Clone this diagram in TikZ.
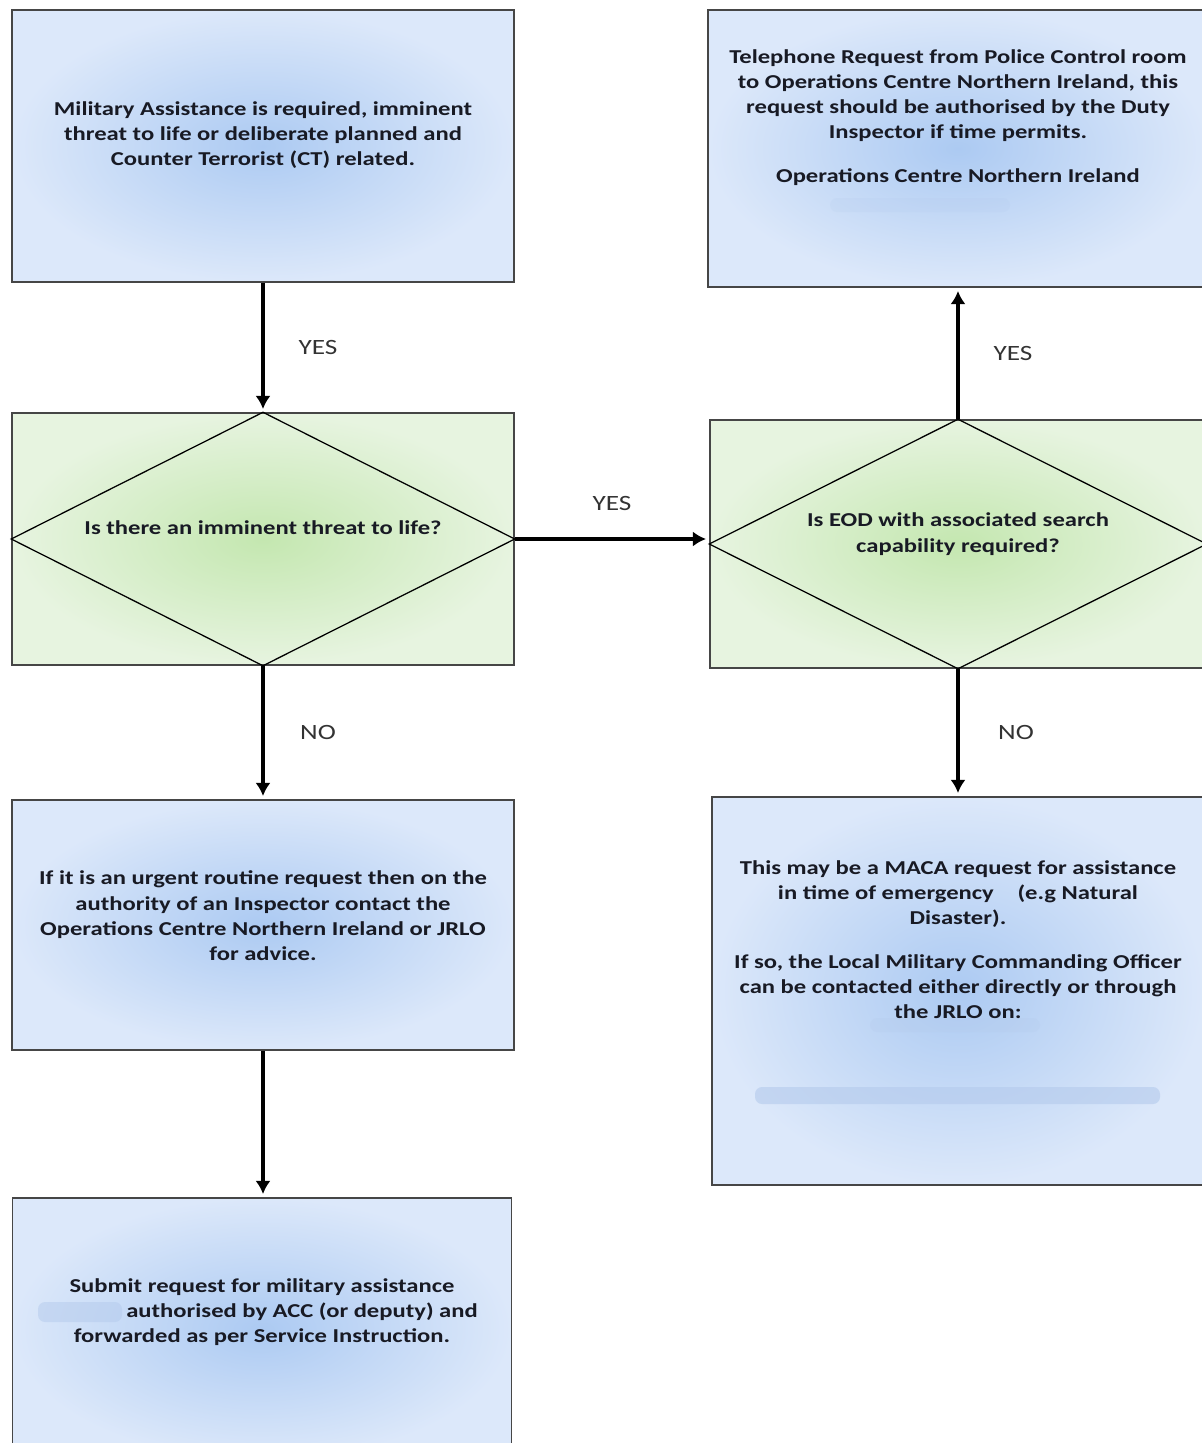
\documentclass[tikz,border=0pt]{standalone}
\usepackage{fontspec}
\setmainfont{Carlito}[FakeStretch=1.25]
\usepackage{tikz}
\usetikzlibrary{arrows.meta}

\definecolor{bluein}{RGB}{172,202,242}
\definecolor{blueout}{RGB}{220,232,250}
\definecolor{greenin}{RGB}{196,231,176}
\definecolor{greenout}{RGB}{231,244,224}
\definecolor{ink}{RGB}{24,26,36}
\definecolor{smudge}{RGB}{180,202,236}

\begin{document}
\begin{tikzpicture}[x=0.025cm, y=-0.025cm,
    box/.style={draw=gray!55!black, line width=1pt, inner sep=0pt,
      inner color=bluein, outer color=blueout},
    gbox/.style={box, inner color=greenin, outer color=greenout},
    diam/.style={draw=black, line width=0.9pt},
    txt/.style={font=\fontsize{14}{18}\selectfont\bfseries, text=ink, align=center},
    lbl/.style={font=\fontsize{15.5}{18}\selectfont, text=black!80},
    arr/.style={line width=2.8pt, -{Latex[length=0.33cm, width=0.38cm]}, shorten >=0.08cm},
    smear/.style={fill=smudge, rounded corners=5pt}]
    \useasboundingbox (0, 0) rectangle (1202, 1443);
    \clip (0, 0) rectangle (1202, 1443);

    \node [box, minimum width=12.55cm, minimum height=6.8cm] (req) at (263, 146) {};
    \node [box, minimum width=12.5cm, minimum height=6.925cm] (tel) at (958, 148.5) {};
    \fill [smear, fill opacity=0.2] (830, 198) rectangle (1010, 212);

    \node [gbox, minimum width=12.55cm, minimum height=6.3cm] (life) at (263, 539) {};
    \draw [diam] (life.north) -- (life.east) -- (life.south) -- (life.west) -- cycle;
    \node [gbox, minimum width=12.4cm, minimum height=6.2cm] (eod) at (958, 544) {};
    \draw [diam] (eod.north) -- (eod.east) -- (eod.south) -- (eod.west) -- cycle;

    \node [box, minimum width=12.55cm, minimum height=6.25cm] (urgent) at (263, 925) {};
    \node [box, minimum width=12.3cm, minimum height=9.7cm] (maca) at (958, 991) {};
    \fill [smear, fill opacity=0.25] (870, 1018) rectangle (1040, 1032);
    \fill [smear, fill opacity=0.6] (755, 1087) rectangle (1160, 1104);
    \node [box, minimum width=12.475cm, minimum height=6.55cm] (submit) at (262, 1329) {};
    \fill [smear, fill opacity=0.5] (38, 1302) rectangle (122, 1322);

    \node [txt] (req-t) at ([yshift=0.275cm]req.center)
      {Military Assistance is required, imminent\\
       threat to life or deliberate planned and\\
       Counter Terrorist (CT) related.};
    \node [txt] (tel-t) at ([yshift=0.78cm]tel.center)
      {Telephone Request from Police Control room\\
       to Operations Centre Northern Ireland, this\\
       request should be authorised by the Duty\\
       Inspector if time permits.\\[0.45cm]
       Operations Centre Northern Ireland};
    \node [txt] (life-t) at ([yshift=0.275cm]life.center)
      {Is there an imminent threat to life?};
    \node [txt] (eod-t) at ([yshift=0.25cm]eod.center)
      {Is EOD with associated search\\ capability required?};
    \node [txt] (urgent-t) at ([yshift=0.225cm]urgent.center)
      {If it is an urgent routine request then on the\\
       authority of an Inspector contact the\\
       Operations Centre Northern Ireland or JRLO\\
       for advice.};
    \node [txt] (maca-t) at ([yshift=1.28cm]maca.center)
      {This may be a MACA request for assistance\\
       in time of emergency\hspace{1.2em}(e.g Natural\\
       Disaster).\\[0.45cm]
       If so, the Local Military Commanding Officer\\
       can be contacted either directly or through\\
       the JRLO on:};
    \node [txt] (submit-t) at ([yshift=0.425cm]submit.center)
      {Submit request for military assistance\\
       \hspace*{2cm}authorised by ACC (or deputy) and\\
       forwarded as per Service Instruction.};

    \draw [arr] (req) -- node [lbl, xshift=1.375cm] (yes1) {YES} (life);
    \draw [arr] (life.east) -- node [lbl, yshift=0.9cm] (yes2) {YES} (life.east -| eod.west);
    \draw [arr] (eod) -- node [lbl, xshift=1.375cm] (yes3) {YES} (tel);
    \draw [arr] (life) -- node [lbl, xshift=1.375cm] (no1) {NO} (urgent);
    \draw [arr] (eod) -- node [lbl, xshift=1.45cm] (no2) {NO} (maca);
    \draw [arr] (urgent.south) -- (urgent.south |- submit.north);
\end{tikzpicture}
\end{document}
